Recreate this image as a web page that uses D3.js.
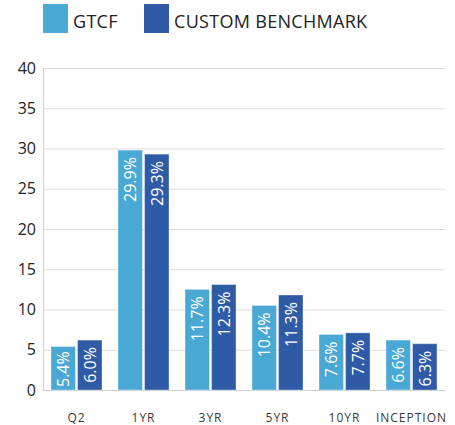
<!DOCTYPE html>
<html><head><meta charset="utf-8">
<script src="https://cdn.jsdelivr.net/npm/d3@7"></script>
<style>body{margin:0;background:#fff}svg{display:block}text{font-family:"Open Sans",sans-serif}</style>
</head><body>
<svg id="c" width="455" height="425"></svg>
<script>
const categories = ["Q2","1YR","3YR","5YR","10YR","INCEPTION"];
const seriesNames = ["GTCF","CUSTOM BENCHMARK"];
const gtcfValues = [5.4, 29.8, 12.5, 10.5, 6.9, 6.2];
const benchValues = [6.2, 29.3, 13.1, 11.8, 7.1, 5.75];
const gtcfLabels = ["5.4%","29.9%","11.7%","10.4%","7.6%","6.6%"];
const benchLabels = ["6.0%","29.3%","12.3%","11.3%","7.7%","6.3%"];
const yTicks = [0,5,10,15,20,25,30,35,40];
const colors = ["#4aa8d5","#2f5ba6"];

const svg = d3.select("#c");
const L = 43, R = 445, T = 68, B = 390;
const x0 = d3.scaleBand().domain(categories).range([L,R]).paddingInner(16/67).paddingOuter(8/67);
const x1 = d3.scaleBand().domain(seriesNames).range([0, x0.bandwidth()]).paddingInner(0.08);
const y = d3.scaleLinear().domain([0,40]).range([B,T]);

// grid
const yAxis = d3.axisLeft(y).tickValues(yTicks).tickSize(-(R-L)).tickPadding(7);
const g = svg.append("g").attr("transform",`translate(${L},0)`).call(yAxis);
g.select(".domain").attr("stroke","#cfcfcf");
g.selectAll(".tick line").attr("stroke","#dcdcdc");
g.selectAll(".tick text").attr("font-size",16).attr("fill","#222").attr("font-family","Open Sans, sans-serif");

// x labels
const xAxis = d3.axisBottom(x0).tickSize(0).tickPadding(23);
const gx = svg.append("g").attr("transform",`translate(0,${B})`).call(xAxis);
gx.select(".domain").attr("stroke","#cfcfcf");
gx.selectAll(".tick text").attr("font-size",12).attr("fill","#3a3a3a").attr("letter-spacing","1px").attr("font-family","Open Sans, sans-serif");

const rows = categories.map((c,i)=>({c, vals:[
  {s:seriesNames[0], v:gtcfValues[i], lab:gtcfLabels[i], col:colors[0]},
  {s:seriesNames[1], v:benchValues[i], lab:benchLabels[i], col:colors[1]}]}));

const grp = svg.append("g").selectAll("g").data(rows).join("g")
  .attr("transform",d=>`translate(${x0(d.c)},0)`);
grp.selectAll("rect").data(d=>d.vals).join("rect")
  .attr("x",d=>x1(d.s)).attr("width",x1.bandwidth())
  .attr("y",d=>y(d.v)).attr("height",d=>y(0)-y(d.v))
  .attr("fill",d=>d.col).attr("stroke","rgba(255,255,255,0.35)").attr("stroke-width",1);

grp.selectAll("text.lab").data(d=>d.vals).join("text").attr("class","lab")
  .attr("fill","#fff").attr("font-size",16).attr("text-anchor","end")
  .text(d=>d.lab)
  .each(function(d){
    const len = this.getComputedTextLength();
    let endY = y(d.v) + 7;
    if (endY + len > B - 3) endY = B - 3 - len;
    const cx = x1(d.s) + x1.bandwidth()/2 + 6;
    d3.select(this).attr("transform",`translate(${cx},${endY}) rotate(-90)`);
  });

// legend
const leg = svg.append("g");
const legX = [43, 144];
seriesNames.forEach((s,i)=>{
  leg.append("rect").attr("x",legX[i]).attr("y",4).attr("width",25).attr("height",29).attr("fill",colors[i]);
  leg.append("text").attr("x",legX[i]+30).attr("y",28).attr("font-size",18).attr("fill","#222")
    .attr("letter-spacing","0.3px").text(s);
});
</script>
</body></html>
